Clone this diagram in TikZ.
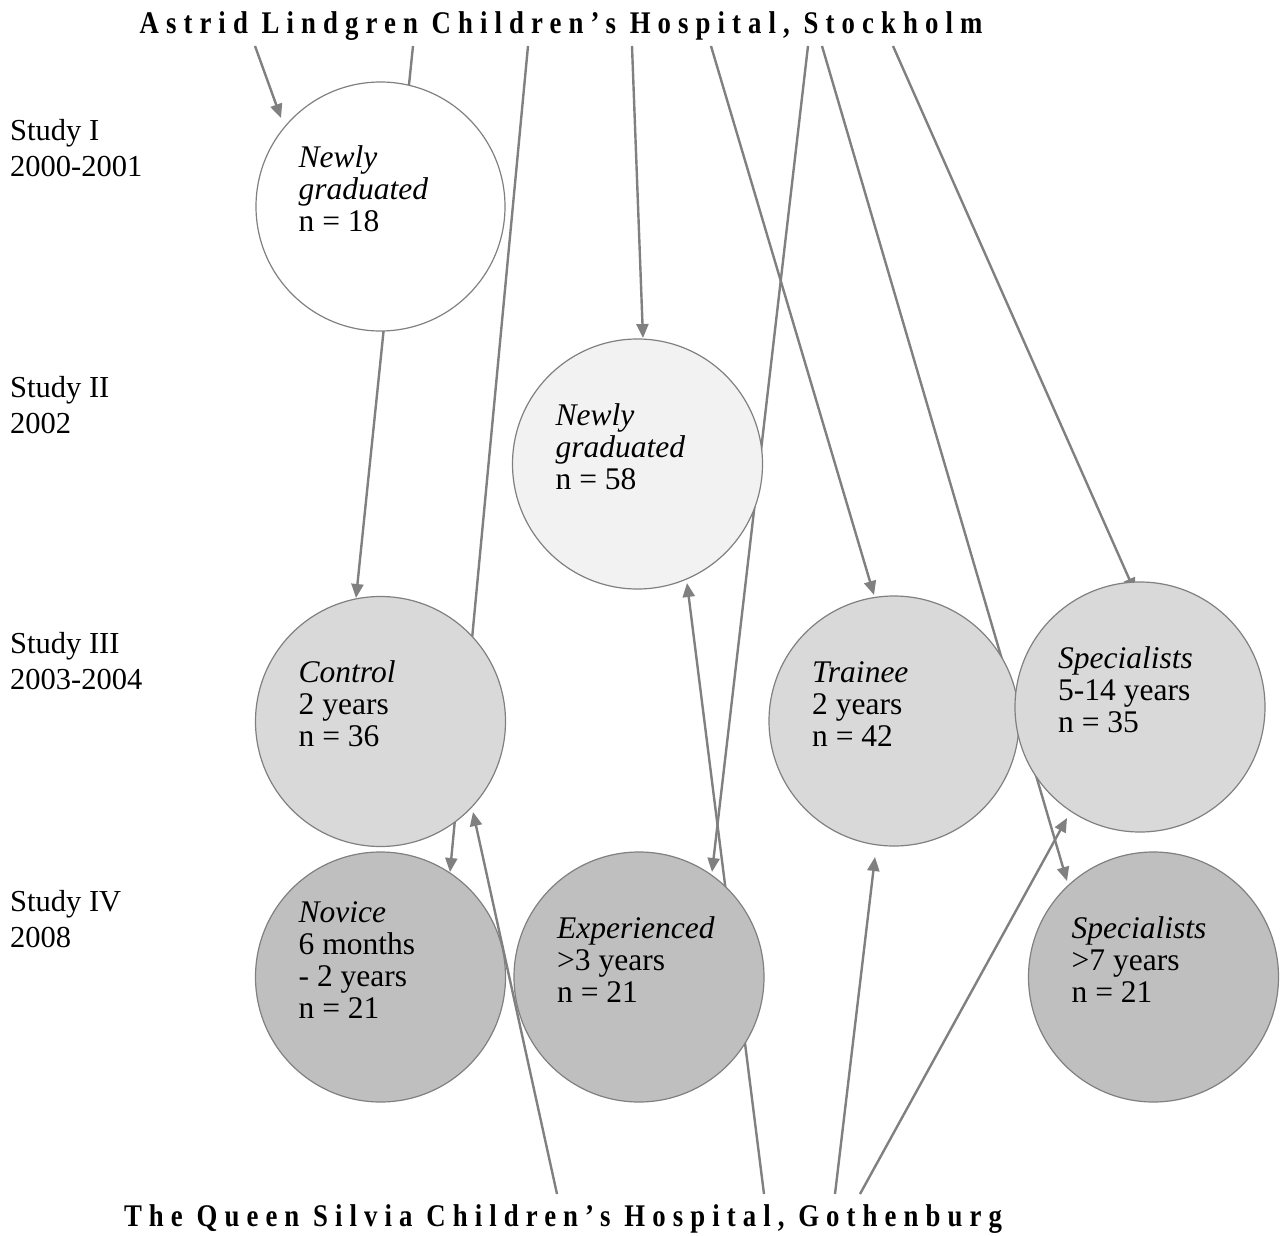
\documentclass[tikz,border=0pt]{standalone}
\usepackage{fontspec}
\setmainfont{Liberation Serif}
\newfontfamily\titlefont[LetterSpace=22.5,FakeStretch=0.85]{Liberation Serif}
\usetikzlibrary{arrows.meta,calc}
\definecolor{linegray}{HTML}{808080}
\definecolor{fillA}{HTML}{FFFFFF}
\definecolor{fillB}{HTML}{F2F2F2}
\definecolor{fillC}{HTML}{D9D9D9}
\definecolor{fillD}{HTML}{BFBFBF}
\begin{document}
\begin{tikzpicture}[x=1pt,y=-1pt,
  circ/.style={circle, draw=linegray, line width=1.2pt, minimum size=250pt, inner sep=0pt},
  ctext/.style={anchor=north west, inner sep=0pt, align=left, font=\fontsize{31.5}{32}\selectfont},
  stext/.style={anchor=north west, inner sep=0pt, align=left, font=\fontsize{30.5}{36}\selectfont},
  ttl/.style={anchor=base, inner sep=0pt, font=\titlefont\bfseries\fontsize{31.5}{32}\selectfont},
  conn/.style={draw=linegray, line width=2.4pt, -{Triangle[length=14pt,width=12pt]}}]
\useasboundingbox (0,0) rectangle (1280,1236);

% titles
\node[ttl] (top) at (561,34) {Astrid Lindgren Children’s Hospital, Stockholm};
\node[ttl] (bot) at (563,1226) {The Queen Silvia Children’s Hospital, Gothenburg};

% study labels
\node[stext] (s1) at (10,114.8) {\strut Study I\\2000-2001};
\node[stext] (s2) at (10,371.8) {\strut Study II\\2002};
\node[stext] (s3) at (10,627.8) {\strut Study III\\2003-2004};
\node[stext] (s4) at (10,885.8) {\strut Study IV\\2008};

% connector end points
\coordinate (sA) at (255,46);  \coordinate (eA) at (281,118);
\coordinate (sB) at (413,46);  \coordinate (eB) at (356,598);
\coordinate (sC) at (528,46);  \coordinate (eC) at (450,872);
\coordinate (sD) at (632,46);  \coordinate (eD) at (643,338);
\coordinate (sE) at (711,46);  \coordinate (eE) at (874,595);
\coordinate (sF) at (808,46);  \coordinate (eF) at (712,872);
\coordinate (sG) at (822,46);  \coordinate (eG) at (1067,881);
\coordinate (sH) at (893,46);  \coordinate (eH) at (1135,592);
\coordinate (bI) at (557,1194); \coordinate (eI) at (473,812);
\coordinate (bJ) at (764,1194); \coordinate (eJ) at (687,583);
\coordinate (bK) at (835,1194); \coordinate (eK) at (875,857);
\coordinate (bL) at (860,1194); \coordinate (eL) at (1067,818);

% connectors (drawn first, circles cover them)
\foreach \a/\b in {sA/eA,sB/eB,sC/eC,sD/eD,sE/eE,sF/eF,sG/eG,sH/eH,bI/eI,bJ/eJ,bK/eK,bL/eL}
  \draw[conn] (\a) -- (\b);

% circles
\node[circ, fill=fillA, minimum size=249pt] (c1) at (380.5,206.5) {};
\node[circ, fill=fillB] (c2) at (637.5,464) {};
\node[circ, fill=fillC] (c3) at (380.5,721.5) {};
\node[circ, fill=fillC] (c4) at (894,721) {};
\node[circ, fill=fillC] (c5) at (1140,707) {};
\node[circ, fill=fillD] (c6) at (380.5,977) {};
\node[circ, fill=fillD] (c7) at (639,977) {};
\node[circ, fill=fillD] (c8) at (1153.5,977) {};

% circle texts
\node[ctext] (t1) at ($(c1.center)+(-82,-61.4)$) {\strut\textit{Newly}\\\textit{graduated}\\n = 18};
\node[ctext] (t2) at ($(c2.center)+(-82,-61.4)$) {\strut\textit{Newly}\\\textit{graduated}\\n = 58};
\node[ctext] (t3) at ($(c3.center)+(-82,-61.4)$) {\strut\textit{Control}\\2 years\\n = 36};
\node[ctext] (t4) at ($(c4.center)+(-82,-61.4)$) {\strut\textit{Trainee}\\2 years\\n = 42};
\node[ctext] (t5) at ($(c5.center)+(-82,-61.4)$) {\strut\textit{Specialists}\\5-14 years\\n = 35};
\node[ctext] (t6) at ($(c6.center)+(-82,-77.4)$) {\strut\textit{Novice}\\6 months\\- 2 years\\n = 21};
\node[ctext] (t7) at ($(c7.center)+(-82,-61.4)$) {\strut\textit{Experienced}\\>3 years\\n = 21};
\node[ctext] (t8) at ($(c8.center)+(-82,-61.4)$) {\strut\textit{Specialists}\\>7 years\\n = 21};
\end{tikzpicture}
\end{document}
